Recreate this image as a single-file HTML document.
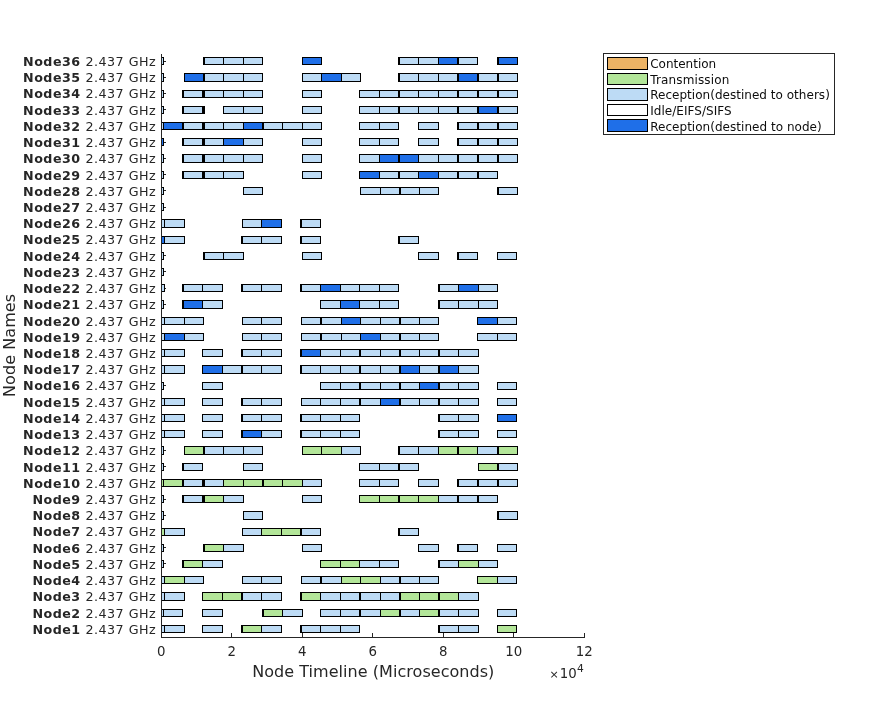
<!DOCTYPE html>
<html lang="en"><head><meta charset="utf-8"><title>Node Timeline</title>
<style>
html,body{margin:0;padding:0;background:#fff;}
body{width:896px;height:717px;overflow:hidden;}
svg{display:block;font-family:"DejaVu Sans","Liberation Sans",sans-serif;fill:#262626;}
.bars rect{shape-rendering:crispEdges;}
.yl text{font-size:12.7px;}
.xl text{font-size:13.33px;}
.lg text{font-size:12px;fill:#0d0d0d;}
</style></head><body>
<svg width="896" height="717" viewBox="0 0 896 717">
<rect width="896" height="717" fill="#fff"/>
<g class="bars">
<rect x="161" y="61" width="5" height="1" fill="#262626"/>
<rect x="161" y="77" width="5" height="1" fill="#262626"/>
<rect x="161" y="93" width="5" height="1" fill="#262626"/>
<rect x="161" y="109" width="5" height="1" fill="#262626"/>
<rect x="161" y="125" width="5" height="1" fill="#262626"/>
<rect x="161" y="142" width="5" height="1" fill="#262626"/>
<rect x="161" y="158" width="5" height="1" fill="#262626"/>
<rect x="161" y="174" width="5" height="1" fill="#262626"/>
<rect x="161" y="190" width="5" height="1" fill="#262626"/>
<rect x="161" y="207" width="5" height="1" fill="#262626"/>
<rect x="161" y="223" width="5" height="1" fill="#262626"/>
<rect x="161" y="239" width="5" height="1" fill="#262626"/>
<rect x="161" y="255" width="5" height="1" fill="#262626"/>
<rect x="161" y="271" width="5" height="1" fill="#262626"/>
<rect x="161" y="288" width="5" height="1" fill="#262626"/>
<rect x="161" y="304" width="5" height="1" fill="#262626"/>
<rect x="161" y="320" width="5" height="1" fill="#262626"/>
<rect x="161" y="336" width="5" height="1" fill="#262626"/>
<rect x="161" y="353" width="5" height="1" fill="#262626"/>
<rect x="161" y="369" width="5" height="1" fill="#262626"/>
<rect x="161" y="385" width="5" height="1" fill="#262626"/>
<rect x="161" y="401" width="5" height="1" fill="#262626"/>
<rect x="161" y="417" width="5" height="1" fill="#262626"/>
<rect x="161" y="434" width="5" height="1" fill="#262626"/>
<rect x="161" y="450" width="5" height="1" fill="#262626"/>
<rect x="161" y="466" width="5" height="1" fill="#262626"/>
<rect x="161" y="482" width="5" height="1" fill="#262626"/>
<rect x="161" y="499" width="5" height="1" fill="#262626"/>
<rect x="161" y="515" width="5" height="1" fill="#262626"/>
<rect x="161" y="531" width="5" height="1" fill="#262626"/>
<rect x="161" y="547" width="5" height="1" fill="#262626"/>
<rect x="161" y="563" width="5" height="1" fill="#262626"/>
<rect x="161" y="580" width="5" height="1" fill="#262626"/>
<rect x="161" y="596" width="5" height="1" fill="#262626"/>
<rect x="161" y="612" width="5" height="1" fill="#262626"/>
<rect x="161" y="628" width="5" height="1" fill="#262626"/>
<rect x="161" y="57" width="3" height="8" fill="#000"/>
<rect x="162" y="58" width="1" height="6" fill="#BDDBF5"/>
<rect x="203" y="57" width="60" height="8" fill="#000"/>
<rect x="205" y="58" width="18" height="6" fill="#BDDBF5"/>
<rect x="224" y="58" width="19" height="6" fill="#BDDBF5"/>
<rect x="244" y="58" width="18" height="6" fill="#BDDBF5"/>
<rect x="302" y="57" width="20" height="8" fill="#000"/>
<rect x="303" y="58" width="18" height="6" fill="#1F6FE8"/>
<rect x="398" y="57" width="80" height="8" fill="#000"/>
<rect x="400" y="58" width="18" height="6" fill="#BDDBF5"/>
<rect x="419" y="58" width="19" height="6" fill="#BDDBF5"/>
<rect x="439" y="58" width="18" height="6" fill="#1F6FE8"/>
<rect x="459" y="58" width="18" height="6" fill="#BDDBF5"/>
<rect x="497" y="57" width="21" height="8" fill="#000"/>
<rect x="499" y="58" width="18" height="6" fill="#1F6FE8"/>
<rect x="161" y="73" width="3" height="9" fill="#000"/>
<rect x="162" y="74" width="1" height="7" fill="#BDDBF5"/>
<rect x="184" y="73" width="79" height="9" fill="#000"/>
<rect x="185" y="74" width="18" height="7" fill="#1F6FE8"/>
<rect x="205" y="74" width="18" height="7" fill="#BDDBF5"/>
<rect x="224" y="74" width="19" height="7" fill="#BDDBF5"/>
<rect x="244" y="74" width="18" height="7" fill="#BDDBF5"/>
<rect x="302" y="73" width="59" height="9" fill="#000"/>
<rect x="303" y="74" width="18" height="7" fill="#BDDBF5"/>
<rect x="322" y="74" width="19" height="7" fill="#1F6FE8"/>
<rect x="342" y="74" width="18" height="7" fill="#BDDBF5"/>
<rect x="398" y="73" width="120" height="9" fill="#000"/>
<rect x="400" y="74" width="18" height="7" fill="#BDDBF5"/>
<rect x="419" y="74" width="19" height="7" fill="#BDDBF5"/>
<rect x="439" y="74" width="18" height="7" fill="#BDDBF5"/>
<rect x="459" y="74" width="18" height="7" fill="#1F6FE8"/>
<rect x="479" y="74" width="18" height="7" fill="#BDDBF5"/>
<rect x="499" y="74" width="18" height="7" fill="#BDDBF5"/>
<rect x="161" y="90" width="3" height="8" fill="#000"/>
<rect x="162" y="91" width="1" height="6" fill="#BDDBF5"/>
<rect x="182" y="90" width="81" height="8" fill="#000"/>
<rect x="184" y="91" width="18" height="6" fill="#BDDBF5"/>
<rect x="205" y="91" width="18" height="6" fill="#BDDBF5"/>
<rect x="224" y="91" width="19" height="6" fill="#BDDBF5"/>
<rect x="244" y="91" width="18" height="6" fill="#BDDBF5"/>
<rect x="302" y="90" width="20" height="8" fill="#000"/>
<rect x="303" y="91" width="18" height="6" fill="#BDDBF5"/>
<rect x="359" y="90" width="159" height="8" fill="#000"/>
<rect x="360" y="91" width="19" height="6" fill="#BDDBF5"/>
<rect x="380" y="91" width="18" height="6" fill="#BDDBF5"/>
<rect x="400" y="91" width="18" height="6" fill="#BDDBF5"/>
<rect x="419" y="91" width="19" height="6" fill="#BDDBF5"/>
<rect x="439" y="91" width="18" height="6" fill="#BDDBF5"/>
<rect x="459" y="91" width="18" height="6" fill="#BDDBF5"/>
<rect x="479" y="91" width="18" height="6" fill="#BDDBF5"/>
<rect x="499" y="91" width="18" height="6" fill="#BDDBF5"/>
<rect x="161" y="106" width="3" height="8" fill="#000"/>
<rect x="162" y="107" width="1" height="6" fill="#BDDBF5"/>
<rect x="182" y="106" width="23" height="8" fill="#000"/>
<rect x="184" y="107" width="18" height="6" fill="#BDDBF5"/>
<rect x="223" y="106" width="40" height="8" fill="#000"/>
<rect x="224" y="107" width="19" height="6" fill="#BDDBF5"/>
<rect x="244" y="107" width="18" height="6" fill="#BDDBF5"/>
<rect x="302" y="106" width="20" height="8" fill="#000"/>
<rect x="303" y="107" width="18" height="6" fill="#BDDBF5"/>
<rect x="359" y="106" width="159" height="8" fill="#000"/>
<rect x="360" y="107" width="19" height="6" fill="#BDDBF5"/>
<rect x="380" y="107" width="18" height="6" fill="#BDDBF5"/>
<rect x="400" y="107" width="18" height="6" fill="#BDDBF5"/>
<rect x="419" y="107" width="19" height="6" fill="#BDDBF5"/>
<rect x="439" y="107" width="18" height="6" fill="#BDDBF5"/>
<rect x="459" y="107" width="18" height="6" fill="#BDDBF5"/>
<rect x="479" y="107" width="18" height="6" fill="#1F6FE8"/>
<rect x="499" y="107" width="18" height="6" fill="#BDDBF5"/>
<rect x="161" y="122" width="161" height="8" fill="#000"/>
<rect x="162" y="123" width="1" height="6" fill="#BDDBF5"/>
<rect x="164" y="123" width="18" height="6" fill="#1F6FE8"/>
<rect x="184" y="123" width="18" height="6" fill="#BDDBF5"/>
<rect x="205" y="123" width="18" height="6" fill="#BDDBF5"/>
<rect x="224" y="123" width="19" height="6" fill="#BDDBF5"/>
<rect x="244" y="123" width="18" height="6" fill="#1F6FE8"/>
<rect x="264" y="123" width="18" height="6" fill="#BDDBF5"/>
<rect x="283" y="123" width="19" height="6" fill="#BDDBF5"/>
<rect x="303" y="123" width="18" height="6" fill="#BDDBF5"/>
<rect x="359" y="122" width="40" height="8" fill="#000"/>
<rect x="360" y="123" width="19" height="6" fill="#BDDBF5"/>
<rect x="380" y="123" width="18" height="6" fill="#BDDBF5"/>
<rect x="418" y="122" width="21" height="8" fill="#000"/>
<rect x="419" y="123" width="19" height="6" fill="#BDDBF5"/>
<rect x="457" y="122" width="61" height="8" fill="#000"/>
<rect x="459" y="123" width="18" height="6" fill="#BDDBF5"/>
<rect x="479" y="123" width="18" height="6" fill="#BDDBF5"/>
<rect x="499" y="123" width="18" height="6" fill="#BDDBF5"/>
<rect x="161" y="138" width="3" height="8" fill="#000"/>
<rect x="162" y="139" width="1" height="6" fill="#1F6FE8"/>
<rect x="182" y="138" width="81" height="8" fill="#000"/>
<rect x="184" y="139" width="18" height="6" fill="#BDDBF5"/>
<rect x="205" y="139" width="18" height="6" fill="#BDDBF5"/>
<rect x="224" y="139" width="19" height="6" fill="#1F6FE8"/>
<rect x="244" y="139" width="18" height="6" fill="#BDDBF5"/>
<rect x="302" y="138" width="20" height="8" fill="#000"/>
<rect x="303" y="139" width="18" height="6" fill="#BDDBF5"/>
<rect x="359" y="138" width="40" height="8" fill="#000"/>
<rect x="360" y="139" width="19" height="6" fill="#BDDBF5"/>
<rect x="380" y="139" width="18" height="6" fill="#BDDBF5"/>
<rect x="418" y="138" width="21" height="8" fill="#000"/>
<rect x="419" y="139" width="19" height="6" fill="#BDDBF5"/>
<rect x="457" y="138" width="61" height="8" fill="#000"/>
<rect x="459" y="139" width="18" height="6" fill="#BDDBF5"/>
<rect x="479" y="139" width="18" height="6" fill="#BDDBF5"/>
<rect x="499" y="139" width="18" height="6" fill="#BDDBF5"/>
<rect x="161" y="154" width="3" height="9" fill="#000"/>
<rect x="162" y="155" width="1" height="7" fill="#BDDBF5"/>
<rect x="182" y="154" width="81" height="9" fill="#000"/>
<rect x="184" y="155" width="18" height="7" fill="#BDDBF5"/>
<rect x="205" y="155" width="18" height="7" fill="#BDDBF5"/>
<rect x="224" y="155" width="19" height="7" fill="#BDDBF5"/>
<rect x="244" y="155" width="18" height="7" fill="#BDDBF5"/>
<rect x="302" y="154" width="20" height="9" fill="#000"/>
<rect x="303" y="155" width="18" height="7" fill="#BDDBF5"/>
<rect x="359" y="154" width="159" height="9" fill="#000"/>
<rect x="360" y="155" width="19" height="7" fill="#BDDBF5"/>
<rect x="380" y="155" width="18" height="7" fill="#1F6FE8"/>
<rect x="400" y="155" width="18" height="7" fill="#1F6FE8"/>
<rect x="419" y="155" width="19" height="7" fill="#BDDBF5"/>
<rect x="439" y="155" width="18" height="7" fill="#BDDBF5"/>
<rect x="459" y="155" width="18" height="7" fill="#BDDBF5"/>
<rect x="479" y="155" width="18" height="7" fill="#BDDBF5"/>
<rect x="499" y="155" width="18" height="7" fill="#BDDBF5"/>
<rect x="161" y="171" width="3" height="8" fill="#000"/>
<rect x="162" y="172" width="1" height="6" fill="#BDDBF5"/>
<rect x="182" y="171" width="62" height="8" fill="#000"/>
<rect x="184" y="172" width="18" height="6" fill="#BDDBF5"/>
<rect x="205" y="172" width="18" height="6" fill="#BDDBF5"/>
<rect x="224" y="172" width="19" height="6" fill="#BDDBF5"/>
<rect x="302" y="171" width="20" height="8" fill="#000"/>
<rect x="303" y="172" width="18" height="6" fill="#BDDBF5"/>
<rect x="359" y="171" width="139" height="8" fill="#000"/>
<rect x="360" y="172" width="19" height="6" fill="#1F6FE8"/>
<rect x="380" y="172" width="18" height="6" fill="#BDDBF5"/>
<rect x="400" y="172" width="18" height="6" fill="#BDDBF5"/>
<rect x="419" y="172" width="19" height="6" fill="#1F6FE8"/>
<rect x="439" y="172" width="18" height="6" fill="#BDDBF5"/>
<rect x="459" y="172" width="18" height="6" fill="#BDDBF5"/>
<rect x="479" y="172" width="18" height="6" fill="#BDDBF5"/>
<rect x="161" y="187" width="3" height="8" fill="#000"/>
<rect x="162" y="188" width="1" height="6" fill="#BDDBF5"/>
<rect x="243" y="187" width="20" height="8" fill="#000"/>
<rect x="244" y="188" width="18" height="6" fill="#BDDBF5"/>
<rect x="360" y="187" width="79" height="8" fill="#000"/>
<rect x="361" y="188" width="19" height="6" fill="#BDDBF5"/>
<rect x="381" y="188" width="18" height="6" fill="#BDDBF5"/>
<rect x="401" y="188" width="18" height="6" fill="#BDDBF5"/>
<rect x="420" y="188" width="18" height="6" fill="#BDDBF5"/>
<rect x="497" y="187" width="21" height="8" fill="#000"/>
<rect x="499" y="188" width="18" height="6" fill="#BDDBF5"/>
<rect x="161" y="203" width="3" height="8" fill="#000"/>
<rect x="162" y="204" width="1" height="6" fill="#BDDBF5"/>
<rect x="161" y="219" width="24" height="9" fill="#000"/>
<rect x="162" y="220" width="2" height="7" fill="#BDDBF5"/>
<rect x="165" y="220" width="19" height="7" fill="#BDDBF5"/>
<rect x="242" y="219" width="40" height="9" fill="#000"/>
<rect x="243" y="220" width="18" height="7" fill="#BDDBF5"/>
<rect x="262" y="220" width="19" height="7" fill="#1F6FE8"/>
<rect x="300" y="219" width="21" height="9" fill="#000"/>
<rect x="302" y="220" width="18" height="7" fill="#BDDBF5"/>
<rect x="161" y="236" width="24" height="8" fill="#000"/>
<rect x="162" y="237" width="2" height="6" fill="#1F6FE8"/>
<rect x="165" y="237" width="19" height="6" fill="#BDDBF5"/>
<rect x="241" y="236" width="41" height="8" fill="#000"/>
<rect x="243" y="237" width="18" height="6" fill="#BDDBF5"/>
<rect x="262" y="237" width="19" height="6" fill="#BDDBF5"/>
<rect x="300" y="236" width="21" height="8" fill="#000"/>
<rect x="302" y="237" width="18" height="6" fill="#BDDBF5"/>
<rect x="398" y="236" width="21" height="8" fill="#000"/>
<rect x="400" y="237" width="18" height="6" fill="#BDDBF5"/>
<rect x="161" y="252" width="3" height="8" fill="#000"/>
<rect x="162" y="253" width="1" height="6" fill="#BDDBF5"/>
<rect x="203" y="252" width="41" height="8" fill="#000"/>
<rect x="205" y="253" width="18" height="6" fill="#BDDBF5"/>
<rect x="224" y="253" width="19" height="6" fill="#BDDBF5"/>
<rect x="302" y="252" width="20" height="8" fill="#000"/>
<rect x="303" y="253" width="18" height="6" fill="#BDDBF5"/>
<rect x="418" y="252" width="21" height="8" fill="#000"/>
<rect x="419" y="253" width="19" height="6" fill="#BDDBF5"/>
<rect x="457" y="252" width="21" height="8" fill="#000"/>
<rect x="459" y="253" width="18" height="6" fill="#BDDBF5"/>
<rect x="497" y="252" width="20" height="8" fill="#000"/>
<rect x="498" y="253" width="18" height="6" fill="#BDDBF5"/>
<rect x="161" y="268" width="3" height="8" fill="#000"/>
<rect x="162" y="269" width="1" height="6" fill="#BDDBF5"/>
<rect x="161" y="284" width="4" height="8" fill="#000"/>
<rect x="162" y="285" width="2" height="6" fill="#BDDBF5"/>
<rect x="182" y="284" width="41" height="8" fill="#000"/>
<rect x="184" y="285" width="18" height="6" fill="#BDDBF5"/>
<rect x="203" y="285" width="19" height="6" fill="#BDDBF5"/>
<rect x="241" y="284" width="41" height="8" fill="#000"/>
<rect x="243" y="285" width="18" height="6" fill="#BDDBF5"/>
<rect x="262" y="285" width="19" height="6" fill="#BDDBF5"/>
<rect x="300" y="284" width="99" height="8" fill="#000"/>
<rect x="302" y="285" width="18" height="6" fill="#BDDBF5"/>
<rect x="321" y="285" width="19" height="6" fill="#1F6FE8"/>
<rect x="341" y="285" width="18" height="6" fill="#BDDBF5"/>
<rect x="360" y="285" width="19" height="6" fill="#BDDBF5"/>
<rect x="380" y="285" width="18" height="6" fill="#BDDBF5"/>
<rect x="438" y="284" width="60" height="8" fill="#000"/>
<rect x="440" y="285" width="18" height="6" fill="#BDDBF5"/>
<rect x="459" y="285" width="19" height="6" fill="#1F6FE8"/>
<rect x="479" y="285" width="18" height="6" fill="#BDDBF5"/>
<rect x="161" y="300" width="3" height="9" fill="#000"/>
<rect x="162" y="301" width="1" height="7" fill="#BDDBF5"/>
<rect x="182" y="300" width="41" height="9" fill="#000"/>
<rect x="184" y="301" width="18" height="7" fill="#1F6FE8"/>
<rect x="203" y="301" width="19" height="7" fill="#BDDBF5"/>
<rect x="320" y="300" width="79" height="9" fill="#000"/>
<rect x="321" y="301" width="19" height="7" fill="#BDDBF5"/>
<rect x="341" y="301" width="18" height="7" fill="#1F6FE8"/>
<rect x="360" y="301" width="19" height="7" fill="#BDDBF5"/>
<rect x="380" y="301" width="18" height="7" fill="#BDDBF5"/>
<rect x="438" y="300" width="60" height="9" fill="#000"/>
<rect x="440" y="301" width="18" height="7" fill="#BDDBF5"/>
<rect x="459" y="301" width="19" height="7" fill="#BDDBF5"/>
<rect x="479" y="301" width="18" height="7" fill="#BDDBF5"/>
<rect x="161" y="317" width="43" height="8" fill="#000"/>
<rect x="162" y="318" width="2" height="6" fill="#BDDBF5"/>
<rect x="165" y="318" width="19" height="6" fill="#BDDBF5"/>
<rect x="185" y="318" width="18" height="6" fill="#BDDBF5"/>
<rect x="242" y="317" width="40" height="8" fill="#000"/>
<rect x="243" y="318" width="18" height="6" fill="#BDDBF5"/>
<rect x="262" y="318" width="19" height="6" fill="#BDDBF5"/>
<rect x="301" y="317" width="138" height="8" fill="#000"/>
<rect x="302" y="318" width="18" height="6" fill="#BDDBF5"/>
<rect x="322" y="318" width="19" height="6" fill="#BDDBF5"/>
<rect x="342" y="318" width="18" height="6" fill="#1F6FE8"/>
<rect x="361" y="318" width="19" height="6" fill="#BDDBF5"/>
<rect x="381" y="318" width="18" height="6" fill="#BDDBF5"/>
<rect x="401" y="318" width="18" height="6" fill="#BDDBF5"/>
<rect x="420" y="318" width="18" height="6" fill="#BDDBF5"/>
<rect x="477" y="317" width="40" height="8" fill="#000"/>
<rect x="478" y="318" width="19" height="6" fill="#1F6FE8"/>
<rect x="498" y="318" width="18" height="6" fill="#BDDBF5"/>
<rect x="161" y="333" width="43" height="8" fill="#000"/>
<rect x="162" y="334" width="2" height="6" fill="#BDDBF5"/>
<rect x="165" y="334" width="19" height="6" fill="#1F6FE8"/>
<rect x="185" y="334" width="18" height="6" fill="#BDDBF5"/>
<rect x="242" y="333" width="40" height="8" fill="#000"/>
<rect x="243" y="334" width="18" height="6" fill="#BDDBF5"/>
<rect x="262" y="334" width="19" height="6" fill="#BDDBF5"/>
<rect x="301" y="333" width="138" height="8" fill="#000"/>
<rect x="302" y="334" width="18" height="6" fill="#BDDBF5"/>
<rect x="322" y="334" width="19" height="6" fill="#BDDBF5"/>
<rect x="342" y="334" width="18" height="6" fill="#BDDBF5"/>
<rect x="361" y="334" width="19" height="6" fill="#1F6FE8"/>
<rect x="381" y="334" width="18" height="6" fill="#BDDBF5"/>
<rect x="401" y="334" width="18" height="6" fill="#BDDBF5"/>
<rect x="420" y="334" width="18" height="6" fill="#BDDBF5"/>
<rect x="477" y="333" width="40" height="8" fill="#000"/>
<rect x="478" y="334" width="19" height="6" fill="#BDDBF5"/>
<rect x="498" y="334" width="18" height="6" fill="#BDDBF5"/>
<rect x="161" y="349" width="24" height="8" fill="#000"/>
<rect x="162" y="350" width="2" height="6" fill="#BDDBF5"/>
<rect x="165" y="350" width="19" height="6" fill="#BDDBF5"/>
<rect x="202" y="349" width="21" height="8" fill="#000"/>
<rect x="203" y="350" width="19" height="6" fill="#BDDBF5"/>
<rect x="241" y="349" width="41" height="8" fill="#000"/>
<rect x="243" y="350" width="18" height="6" fill="#BDDBF5"/>
<rect x="262" y="350" width="19" height="6" fill="#BDDBF5"/>
<rect x="300" y="349" width="179" height="8" fill="#000"/>
<rect x="302" y="350" width="18" height="6" fill="#1F6FE8"/>
<rect x="321" y="350" width="19" height="6" fill="#BDDBF5"/>
<rect x="341" y="350" width="18" height="6" fill="#BDDBF5"/>
<rect x="361" y="350" width="19" height="6" fill="#BDDBF5"/>
<rect x="381" y="350" width="18" height="6" fill="#BDDBF5"/>
<rect x="401" y="350" width="18" height="6" fill="#BDDBF5"/>
<rect x="420" y="350" width="18" height="6" fill="#BDDBF5"/>
<rect x="440" y="350" width="18" height="6" fill="#BDDBF5"/>
<rect x="459" y="350" width="19" height="6" fill="#BDDBF5"/>
<rect x="161" y="365" width="24" height="9" fill="#000"/>
<rect x="162" y="366" width="2" height="7" fill="#BDDBF5"/>
<rect x="165" y="366" width="19" height="7" fill="#BDDBF5"/>
<rect x="202" y="365" width="80" height="9" fill="#000"/>
<rect x="203" y="366" width="19" height="7" fill="#1F6FE8"/>
<rect x="223" y="366" width="18" height="7" fill="#BDDBF5"/>
<rect x="243" y="366" width="18" height="7" fill="#BDDBF5"/>
<rect x="262" y="366" width="19" height="7" fill="#BDDBF5"/>
<rect x="300" y="365" width="179" height="9" fill="#000"/>
<rect x="302" y="366" width="18" height="7" fill="#BDDBF5"/>
<rect x="321" y="366" width="19" height="7" fill="#BDDBF5"/>
<rect x="341" y="366" width="18" height="7" fill="#BDDBF5"/>
<rect x="361" y="366" width="19" height="7" fill="#BDDBF5"/>
<rect x="381" y="366" width="18" height="7" fill="#BDDBF5"/>
<rect x="401" y="366" width="18" height="7" fill="#1F6FE8"/>
<rect x="420" y="366" width="18" height="7" fill="#BDDBF5"/>
<rect x="440" y="366" width="18" height="7" fill="#1F6FE8"/>
<rect x="459" y="366" width="19" height="7" fill="#BDDBF5"/>
<rect x="161" y="382" width="3" height="8" fill="#000"/>
<rect x="162" y="383" width="1" height="6" fill="#BDDBF5"/>
<rect x="202" y="382" width="21" height="8" fill="#000"/>
<rect x="203" y="383" width="19" height="6" fill="#BDDBF5"/>
<rect x="320" y="382" width="159" height="8" fill="#000"/>
<rect x="321" y="383" width="19" height="6" fill="#BDDBF5"/>
<rect x="341" y="383" width="18" height="6" fill="#BDDBF5"/>
<rect x="361" y="383" width="19" height="6" fill="#BDDBF5"/>
<rect x="381" y="383" width="18" height="6" fill="#BDDBF5"/>
<rect x="401" y="383" width="18" height="6" fill="#BDDBF5"/>
<rect x="420" y="383" width="18" height="6" fill="#1F6FE8"/>
<rect x="440" y="383" width="18" height="6" fill="#BDDBF5"/>
<rect x="459" y="383" width="19" height="6" fill="#BDDBF5"/>
<rect x="497" y="382" width="20" height="8" fill="#000"/>
<rect x="498" y="383" width="18" height="6" fill="#BDDBF5"/>
<rect x="161" y="398" width="24" height="8" fill="#000"/>
<rect x="162" y="399" width="2" height="6" fill="#BDDBF5"/>
<rect x="165" y="399" width="19" height="6" fill="#BDDBF5"/>
<rect x="202" y="398" width="21" height="8" fill="#000"/>
<rect x="203" y="399" width="19" height="6" fill="#BDDBF5"/>
<rect x="241" y="398" width="41" height="8" fill="#000"/>
<rect x="243" y="399" width="18" height="6" fill="#BDDBF5"/>
<rect x="262" y="399" width="19" height="6" fill="#BDDBF5"/>
<rect x="301" y="398" width="178" height="8" fill="#000"/>
<rect x="302" y="399" width="18" height="6" fill="#BDDBF5"/>
<rect x="321" y="399" width="19" height="6" fill="#BDDBF5"/>
<rect x="341" y="399" width="18" height="6" fill="#BDDBF5"/>
<rect x="361" y="399" width="19" height="6" fill="#BDDBF5"/>
<rect x="381" y="399" width="18" height="6" fill="#1F6FE8"/>
<rect x="401" y="399" width="18" height="6" fill="#BDDBF5"/>
<rect x="420" y="399" width="18" height="6" fill="#BDDBF5"/>
<rect x="440" y="399" width="18" height="6" fill="#BDDBF5"/>
<rect x="459" y="399" width="19" height="6" fill="#BDDBF5"/>
<rect x="497" y="398" width="20" height="8" fill="#000"/>
<rect x="498" y="399" width="18" height="6" fill="#BDDBF5"/>
<rect x="161" y="414" width="24" height="8" fill="#000"/>
<rect x="162" y="415" width="2" height="6" fill="#BDDBF5"/>
<rect x="165" y="415" width="19" height="6" fill="#BDDBF5"/>
<rect x="202" y="414" width="21" height="8" fill="#000"/>
<rect x="203" y="415" width="19" height="6" fill="#BDDBF5"/>
<rect x="241" y="414" width="41" height="8" fill="#000"/>
<rect x="243" y="415" width="18" height="6" fill="#BDDBF5"/>
<rect x="262" y="415" width="19" height="6" fill="#BDDBF5"/>
<rect x="300" y="414" width="60" height="8" fill="#000"/>
<rect x="302" y="415" width="18" height="6" fill="#BDDBF5"/>
<rect x="321" y="415" width="19" height="6" fill="#BDDBF5"/>
<rect x="341" y="415" width="18" height="6" fill="#BDDBF5"/>
<rect x="438" y="414" width="41" height="8" fill="#000"/>
<rect x="440" y="415" width="18" height="6" fill="#BDDBF5"/>
<rect x="459" y="415" width="19" height="6" fill="#BDDBF5"/>
<rect x="497" y="414" width="20" height="8" fill="#000"/>
<rect x="498" y="415" width="18" height="6" fill="#1F6FE8"/>
<rect x="161" y="430" width="24" height="8" fill="#000"/>
<rect x="162" y="431" width="2" height="6" fill="#BDDBF5"/>
<rect x="165" y="431" width="19" height="6" fill="#BDDBF5"/>
<rect x="202" y="430" width="21" height="8" fill="#000"/>
<rect x="203" y="431" width="19" height="6" fill="#BDDBF5"/>
<rect x="241" y="430" width="41" height="8" fill="#000"/>
<rect x="243" y="431" width="18" height="6" fill="#1F6FE8"/>
<rect x="262" y="431" width="19" height="6" fill="#BDDBF5"/>
<rect x="300" y="430" width="60" height="8" fill="#000"/>
<rect x="302" y="431" width="18" height="6" fill="#BDDBF5"/>
<rect x="321" y="431" width="19" height="6" fill="#BDDBF5"/>
<rect x="341" y="431" width="18" height="6" fill="#BDDBF5"/>
<rect x="438" y="430" width="41" height="8" fill="#000"/>
<rect x="440" y="431" width="18" height="6" fill="#BDDBF5"/>
<rect x="459" y="431" width="19" height="6" fill="#BDDBF5"/>
<rect x="497" y="430" width="20" height="8" fill="#000"/>
<rect x="498" y="431" width="18" height="6" fill="#BDDBF5"/>
<rect x="161" y="446" width="3" height="9" fill="#000"/>
<rect x="162" y="447" width="1" height="7" fill="#BDDBF5"/>
<rect x="184" y="446" width="79" height="9" fill="#000"/>
<rect x="185" y="447" width="18" height="7" fill="#B3E699"/>
<rect x="205" y="447" width="18" height="7" fill="#BDDBF5"/>
<rect x="224" y="447" width="19" height="7" fill="#BDDBF5"/>
<rect x="244" y="447" width="18" height="7" fill="#BDDBF5"/>
<rect x="302" y="446" width="59" height="9" fill="#000"/>
<rect x="303" y="447" width="18" height="7" fill="#B3E699"/>
<rect x="322" y="447" width="19" height="7" fill="#B3E699"/>
<rect x="342" y="447" width="18" height="7" fill="#BDDBF5"/>
<rect x="398" y="446" width="120" height="9" fill="#000"/>
<rect x="400" y="447" width="18" height="7" fill="#BDDBF5"/>
<rect x="419" y="447" width="19" height="7" fill="#BDDBF5"/>
<rect x="439" y="447" width="18" height="7" fill="#B3E699"/>
<rect x="459" y="447" width="18" height="7" fill="#B3E699"/>
<rect x="478" y="447" width="19" height="7" fill="#BDDBF5"/>
<rect x="499" y="447" width="18" height="7" fill="#B3E699"/>
<rect x="161" y="463" width="3" height="8" fill="#000"/>
<rect x="162" y="464" width="1" height="6" fill="#BDDBF5"/>
<rect x="182" y="463" width="21" height="8" fill="#000"/>
<rect x="184" y="464" width="18" height="6" fill="#BDDBF5"/>
<rect x="243" y="463" width="20" height="8" fill="#000"/>
<rect x="244" y="464" width="18" height="6" fill="#BDDBF5"/>
<rect x="359" y="463" width="60" height="8" fill="#000"/>
<rect x="360" y="464" width="19" height="6" fill="#BDDBF5"/>
<rect x="380" y="464" width="18" height="6" fill="#BDDBF5"/>
<rect x="400" y="464" width="18" height="6" fill="#BDDBF5"/>
<rect x="478" y="463" width="40" height="8" fill="#000"/>
<rect x="479" y="464" width="18" height="6" fill="#B3E699"/>
<rect x="499" y="464" width="18" height="6" fill="#BDDBF5"/>
<rect x="161" y="479" width="161" height="8" fill="#000"/>
<rect x="162" y="480" width="1" height="6" fill="#B3E699"/>
<rect x="164" y="480" width="18" height="6" fill="#B3E699"/>
<rect x="184" y="480" width="18" height="6" fill="#BDDBF5"/>
<rect x="205" y="480" width="18" height="6" fill="#BDDBF5"/>
<rect x="224" y="480" width="19" height="6" fill="#B3E699"/>
<rect x="244" y="480" width="18" height="6" fill="#B3E699"/>
<rect x="264" y="480" width="18" height="6" fill="#B3E699"/>
<rect x="283" y="480" width="19" height="6" fill="#B3E699"/>
<rect x="303" y="480" width="18" height="6" fill="#BDDBF5"/>
<rect x="359" y="479" width="40" height="8" fill="#000"/>
<rect x="360" y="480" width="19" height="6" fill="#BDDBF5"/>
<rect x="380" y="480" width="18" height="6" fill="#BDDBF5"/>
<rect x="418" y="479" width="21" height="8" fill="#000"/>
<rect x="419" y="480" width="19" height="6" fill="#BDDBF5"/>
<rect x="457" y="479" width="61" height="8" fill="#000"/>
<rect x="459" y="480" width="18" height="6" fill="#BDDBF5"/>
<rect x="479" y="480" width="18" height="6" fill="#BDDBF5"/>
<rect x="499" y="480" width="18" height="6" fill="#BDDBF5"/>
<rect x="161" y="495" width="3" height="8" fill="#000"/>
<rect x="162" y="496" width="1" height="6" fill="#BDDBF5"/>
<rect x="182" y="495" width="62" height="8" fill="#000"/>
<rect x="184" y="496" width="18" height="6" fill="#BDDBF5"/>
<rect x="205" y="496" width="18" height="6" fill="#B3E699"/>
<rect x="224" y="496" width="19" height="6" fill="#BDDBF5"/>
<rect x="302" y="495" width="20" height="8" fill="#000"/>
<rect x="303" y="496" width="18" height="6" fill="#BDDBF5"/>
<rect x="359" y="495" width="139" height="8" fill="#000"/>
<rect x="360" y="496" width="19" height="6" fill="#B3E699"/>
<rect x="380" y="496" width="18" height="6" fill="#B3E699"/>
<rect x="400" y="496" width="18" height="6" fill="#B3E699"/>
<rect x="419" y="496" width="19" height="6" fill="#B3E699"/>
<rect x="439" y="496" width="18" height="6" fill="#BDDBF5"/>
<rect x="459" y="496" width="18" height="6" fill="#BDDBF5"/>
<rect x="479" y="496" width="18" height="6" fill="#BDDBF5"/>
<rect x="161" y="511" width="3" height="9" fill="#000"/>
<rect x="162" y="512" width="1" height="7" fill="#BDDBF5"/>
<rect x="243" y="511" width="20" height="9" fill="#000"/>
<rect x="244" y="512" width="18" height="7" fill="#BDDBF5"/>
<rect x="497" y="511" width="21" height="9" fill="#000"/>
<rect x="499" y="512" width="18" height="7" fill="#BDDBF5"/>
<rect x="161" y="528" width="24" height="8" fill="#000"/>
<rect x="162" y="529" width="2" height="6" fill="#B3E699"/>
<rect x="165" y="529" width="19" height="6" fill="#BDDBF5"/>
<rect x="242" y="528" width="79" height="8" fill="#000"/>
<rect x="243" y="529" width="18" height="6" fill="#BDDBF5"/>
<rect x="262" y="529" width="19" height="6" fill="#B3E699"/>
<rect x="282" y="529" width="18" height="6" fill="#B3E699"/>
<rect x="302" y="529" width="18" height="6" fill="#BDDBF5"/>
<rect x="398" y="528" width="21" height="8" fill="#000"/>
<rect x="400" y="529" width="18" height="6" fill="#BDDBF5"/>
<rect x="161" y="544" width="3" height="8" fill="#000"/>
<rect x="162" y="545" width="1" height="6" fill="#BDDBF5"/>
<rect x="203" y="544" width="41" height="8" fill="#000"/>
<rect x="205" y="545" width="18" height="6" fill="#B3E699"/>
<rect x="224" y="545" width="19" height="6" fill="#BDDBF5"/>
<rect x="302" y="544" width="20" height="8" fill="#000"/>
<rect x="303" y="545" width="18" height="6" fill="#BDDBF5"/>
<rect x="418" y="544" width="21" height="8" fill="#000"/>
<rect x="419" y="545" width="19" height="6" fill="#BDDBF5"/>
<rect x="457" y="544" width="21" height="8" fill="#000"/>
<rect x="459" y="545" width="18" height="6" fill="#BDDBF5"/>
<rect x="497" y="544" width="20" height="8" fill="#000"/>
<rect x="498" y="545" width="18" height="6" fill="#BDDBF5"/>
<rect x="161" y="560" width="3" height="8" fill="#000"/>
<rect x="162" y="561" width="1" height="6" fill="#BDDBF5"/>
<rect x="182" y="560" width="41" height="8" fill="#000"/>
<rect x="184" y="561" width="18" height="6" fill="#B3E699"/>
<rect x="203" y="561" width="19" height="6" fill="#BDDBF5"/>
<rect x="320" y="560" width="79" height="8" fill="#000"/>
<rect x="321" y="561" width="19" height="6" fill="#B3E699"/>
<rect x="341" y="561" width="18" height="6" fill="#B3E699"/>
<rect x="360" y="561" width="19" height="6" fill="#BDDBF5"/>
<rect x="380" y="561" width="18" height="6" fill="#BDDBF5"/>
<rect x="438" y="560" width="60" height="8" fill="#000"/>
<rect x="440" y="561" width="18" height="6" fill="#BDDBF5"/>
<rect x="459" y="561" width="19" height="6" fill="#B3E699"/>
<rect x="479" y="561" width="18" height="6" fill="#BDDBF5"/>
<rect x="161" y="576" width="43" height="8" fill="#000"/>
<rect x="162" y="577" width="2" height="6" fill="#BDDBF5"/>
<rect x="165" y="577" width="19" height="6" fill="#B3E699"/>
<rect x="185" y="577" width="18" height="6" fill="#BDDBF5"/>
<rect x="242" y="576" width="40" height="8" fill="#000"/>
<rect x="243" y="577" width="18" height="6" fill="#BDDBF5"/>
<rect x="262" y="577" width="19" height="6" fill="#BDDBF5"/>
<rect x="301" y="576" width="138" height="8" fill="#000"/>
<rect x="302" y="577" width="18" height="6" fill="#BDDBF5"/>
<rect x="322" y="577" width="19" height="6" fill="#BDDBF5"/>
<rect x="342" y="577" width="18" height="6" fill="#B3E699"/>
<rect x="361" y="577" width="19" height="6" fill="#B3E699"/>
<rect x="381" y="577" width="18" height="6" fill="#BDDBF5"/>
<rect x="401" y="577" width="18" height="6" fill="#BDDBF5"/>
<rect x="420" y="577" width="18" height="6" fill="#BDDBF5"/>
<rect x="477" y="576" width="40" height="8" fill="#000"/>
<rect x="478" y="577" width="19" height="6" fill="#B3E699"/>
<rect x="498" y="577" width="18" height="6" fill="#BDDBF5"/>
<rect x="161" y="592" width="24" height="9" fill="#000"/>
<rect x="162" y="593" width="2" height="7" fill="#BDDBF5"/>
<rect x="165" y="593" width="19" height="7" fill="#BDDBF5"/>
<rect x="202" y="592" width="80" height="9" fill="#000"/>
<rect x="203" y="593" width="19" height="7" fill="#B3E699"/>
<rect x="223" y="593" width="18" height="7" fill="#B3E699"/>
<rect x="243" y="593" width="18" height="7" fill="#BDDBF5"/>
<rect x="262" y="593" width="19" height="7" fill="#BDDBF5"/>
<rect x="300" y="592" width="179" height="9" fill="#000"/>
<rect x="302" y="593" width="18" height="7" fill="#B3E699"/>
<rect x="321" y="593" width="19" height="7" fill="#BDDBF5"/>
<rect x="341" y="593" width="18" height="7" fill="#BDDBF5"/>
<rect x="361" y="593" width="19" height="7" fill="#BDDBF5"/>
<rect x="381" y="593" width="18" height="7" fill="#BDDBF5"/>
<rect x="401" y="593" width="18" height="7" fill="#B3E699"/>
<rect x="420" y="593" width="18" height="7" fill="#B3E699"/>
<rect x="440" y="593" width="18" height="7" fill="#B3E699"/>
<rect x="459" y="593" width="19" height="7" fill="#BDDBF5"/>
<rect x="161" y="609" width="22" height="8" fill="#000"/>
<rect x="162" y="610" width="1" height="6" fill="#BDDBF5"/>
<rect x="164" y="610" width="18" height="6" fill="#BDDBF5"/>
<rect x="202" y="609" width="21" height="8" fill="#000"/>
<rect x="203" y="610" width="19" height="6" fill="#BDDBF5"/>
<rect x="262" y="609" width="41" height="8" fill="#000"/>
<rect x="264" y="610" width="18" height="6" fill="#B3E699"/>
<rect x="283" y="610" width="19" height="6" fill="#BDDBF5"/>
<rect x="320" y="609" width="159" height="8" fill="#000"/>
<rect x="321" y="610" width="19" height="6" fill="#BDDBF5"/>
<rect x="341" y="610" width="18" height="6" fill="#BDDBF5"/>
<rect x="361" y="610" width="19" height="6" fill="#BDDBF5"/>
<rect x="381" y="610" width="18" height="6" fill="#B3E699"/>
<rect x="401" y="610" width="18" height="6" fill="#BDDBF5"/>
<rect x="420" y="610" width="18" height="6" fill="#B3E699"/>
<rect x="440" y="610" width="18" height="6" fill="#BDDBF5"/>
<rect x="459" y="610" width="19" height="6" fill="#BDDBF5"/>
<rect x="497" y="609" width="20" height="8" fill="#000"/>
<rect x="498" y="610" width="18" height="6" fill="#BDDBF5"/>
<rect x="161" y="625" width="24" height="8" fill="#000"/>
<rect x="162" y="626" width="2" height="6" fill="#BDDBF5"/>
<rect x="165" y="626" width="19" height="6" fill="#BDDBF5"/>
<rect x="202" y="625" width="21" height="8" fill="#000"/>
<rect x="203" y="626" width="19" height="6" fill="#BDDBF5"/>
<rect x="241" y="625" width="41" height="8" fill="#000"/>
<rect x="243" y="626" width="18" height="6" fill="#B3E699"/>
<rect x="262" y="626" width="19" height="6" fill="#BDDBF5"/>
<rect x="300" y="625" width="60" height="8" fill="#000"/>
<rect x="302" y="626" width="18" height="6" fill="#BDDBF5"/>
<rect x="321" y="626" width="19" height="6" fill="#BDDBF5"/>
<rect x="341" y="626" width="18" height="6" fill="#BDDBF5"/>
<rect x="438" y="625" width="41" height="8" fill="#000"/>
<rect x="440" y="626" width="18" height="6" fill="#BDDBF5"/>
<rect x="459" y="626" width="19" height="6" fill="#BDDBF5"/>
<rect x="497" y="625" width="20" height="8" fill="#000"/>
<rect x="498" y="626" width="18" height="6" fill="#B3E699"/>
<rect x="161" y="54" width="1" height="584" fill="#262626"/>
<rect x="161" y="637" width="424" height="1" fill="#262626"/>
</g>
<g class="yl">
<text x="80.5" y="66" text-anchor="end" font-weight="bold" letter-spacing="0.45">Node36</text><text x="156.1" y="66" text-anchor="end" letter-spacing="0.47">2.437 GHz</text>
<text x="80.5" y="82" text-anchor="end" font-weight="bold" letter-spacing="0.45">Node35</text><text x="156.1" y="82" text-anchor="end" letter-spacing="0.47">2.437 GHz</text>
<text x="80.5" y="98" text-anchor="end" font-weight="bold" letter-spacing="0.45">Node34</text><text x="156.1" y="98" text-anchor="end" letter-spacing="0.47">2.437 GHz</text>
<text x="80.5" y="115" text-anchor="end" font-weight="bold" letter-spacing="0.45">Node33</text><text x="156.1" y="115" text-anchor="end" letter-spacing="0.47">2.437 GHz</text>
<text x="80.5" y="131" text-anchor="end" font-weight="bold" letter-spacing="0.45">Node32</text><text x="156.1" y="131" text-anchor="end" letter-spacing="0.47">2.437 GHz</text>
<text x="80.5" y="147" text-anchor="end" font-weight="bold" letter-spacing="0.45">Node31</text><text x="156.1" y="147" text-anchor="end" letter-spacing="0.47">2.437 GHz</text>
<text x="80.5" y="163" text-anchor="end" font-weight="bold" letter-spacing="0.45">Node30</text><text x="156.1" y="163" text-anchor="end" letter-spacing="0.47">2.437 GHz</text>
<text x="80.5" y="180" text-anchor="end" font-weight="bold" letter-spacing="0.45">Node29</text><text x="156.1" y="180" text-anchor="end" letter-spacing="0.47">2.437 GHz</text>
<text x="80.5" y="196" text-anchor="end" font-weight="bold" letter-spacing="0.45">Node28</text><text x="156.1" y="196" text-anchor="end" letter-spacing="0.47">2.437 GHz</text>
<text x="80.5" y="212" text-anchor="end" font-weight="bold" letter-spacing="0.45">Node27</text><text x="156.1" y="212" text-anchor="end" letter-spacing="0.47">2.437 GHz</text>
<text x="80.5" y="228" text-anchor="end" font-weight="bold" letter-spacing="0.45">Node26</text><text x="156.1" y="228" text-anchor="end" letter-spacing="0.47">2.437 GHz</text>
<text x="80.5" y="244" text-anchor="end" font-weight="bold" letter-spacing="0.45">Node25</text><text x="156.1" y="244" text-anchor="end" letter-spacing="0.47">2.437 GHz</text>
<text x="80.5" y="261" text-anchor="end" font-weight="bold" letter-spacing="0.45">Node24</text><text x="156.1" y="261" text-anchor="end" letter-spacing="0.47">2.437 GHz</text>
<text x="80.5" y="277" text-anchor="end" font-weight="bold" letter-spacing="0.45">Node23</text><text x="156.1" y="277" text-anchor="end" letter-spacing="0.47">2.437 GHz</text>
<text x="80.5" y="293" text-anchor="end" font-weight="bold" letter-spacing="0.45">Node22</text><text x="156.1" y="293" text-anchor="end" letter-spacing="0.47">2.437 GHz</text>
<text x="80.5" y="309" text-anchor="end" font-weight="bold" letter-spacing="0.45">Node21</text><text x="156.1" y="309" text-anchor="end" letter-spacing="0.47">2.437 GHz</text>
<text x="80.5" y="326" text-anchor="end" font-weight="bold" letter-spacing="0.45">Node20</text><text x="156.1" y="326" text-anchor="end" letter-spacing="0.47">2.437 GHz</text>
<text x="80.5" y="342" text-anchor="end" font-weight="bold" letter-spacing="0.45">Node19</text><text x="156.1" y="342" text-anchor="end" letter-spacing="0.47">2.437 GHz</text>
<text x="80.5" y="358" text-anchor="end" font-weight="bold" letter-spacing="0.45">Node18</text><text x="156.1" y="358" text-anchor="end" letter-spacing="0.47">2.437 GHz</text>
<text x="80.5" y="374" text-anchor="end" font-weight="bold" letter-spacing="0.45">Node17</text><text x="156.1" y="374" text-anchor="end" letter-spacing="0.47">2.437 GHz</text>
<text x="80.5" y="390" text-anchor="end" font-weight="bold" letter-spacing="0.45">Node16</text><text x="156.1" y="390" text-anchor="end" letter-spacing="0.47">2.437 GHz</text>
<text x="80.5" y="407" text-anchor="end" font-weight="bold" letter-spacing="0.45">Node15</text><text x="156.1" y="407" text-anchor="end" letter-spacing="0.47">2.437 GHz</text>
<text x="80.5" y="423" text-anchor="end" font-weight="bold" letter-spacing="0.45">Node14</text><text x="156.1" y="423" text-anchor="end" letter-spacing="0.47">2.437 GHz</text>
<text x="80.5" y="439" text-anchor="end" font-weight="bold" letter-spacing="0.45">Node13</text><text x="156.1" y="439" text-anchor="end" letter-spacing="0.47">2.437 GHz</text>
<text x="80.5" y="455" text-anchor="end" font-weight="bold" letter-spacing="0.45">Node12</text><text x="156.1" y="455" text-anchor="end" letter-spacing="0.47">2.437 GHz</text>
<text x="80.5" y="472" text-anchor="end" font-weight="bold" letter-spacing="0.45">Node11</text><text x="156.1" y="472" text-anchor="end" letter-spacing="0.47">2.437 GHz</text>
<text x="80.5" y="488" text-anchor="end" font-weight="bold" letter-spacing="0.45">Node10</text><text x="156.1" y="488" text-anchor="end" letter-spacing="0.47">2.437 GHz</text>
<text x="80.5" y="504" text-anchor="end" font-weight="bold" letter-spacing="0.45">Node9</text><text x="156.1" y="504" text-anchor="end" letter-spacing="0.47">2.437 GHz</text>
<text x="80.5" y="520" text-anchor="end" font-weight="bold" letter-spacing="0.45">Node8</text><text x="156.1" y="520" text-anchor="end" letter-spacing="0.47">2.437 GHz</text>
<text x="80.5" y="536" text-anchor="end" font-weight="bold" letter-spacing="0.45">Node7</text><text x="156.1" y="536" text-anchor="end" letter-spacing="0.47">2.437 GHz</text>
<text x="80.5" y="553" text-anchor="end" font-weight="bold" letter-spacing="0.45">Node6</text><text x="156.1" y="553" text-anchor="end" letter-spacing="0.47">2.437 GHz</text>
<text x="80.5" y="569" text-anchor="end" font-weight="bold" letter-spacing="0.45">Node5</text><text x="156.1" y="569" text-anchor="end" letter-spacing="0.47">2.437 GHz</text>
<text x="80.5" y="585" text-anchor="end" font-weight="bold" letter-spacing="0.45">Node4</text><text x="156.1" y="585" text-anchor="end" letter-spacing="0.47">2.437 GHz</text>
<text x="80.5" y="601" text-anchor="end" font-weight="bold" letter-spacing="0.45">Node3</text><text x="156.1" y="601" text-anchor="end" letter-spacing="0.47">2.437 GHz</text>
<text x="80.5" y="618" text-anchor="end" font-weight="bold" letter-spacing="0.45">Node2</text><text x="156.1" y="618" text-anchor="end" letter-spacing="0.47">2.437 GHz</text>
<text x="80.5" y="634" text-anchor="end" font-weight="bold" letter-spacing="0.45">Node1</text><text x="156.1" y="634" text-anchor="end" letter-spacing="0.47">2.437 GHz</text>
</g>
<g class="xl">
<rect x="161" y="633" width="1" height="5" fill="#262626" shape-rendering="crispEdges"/>
<text x="161.3" y="656" text-anchor="middle">0</text>
<rect x="231" y="633" width="1" height="5" fill="#262626" shape-rendering="crispEdges"/>
<text x="231.8" y="656" text-anchor="middle">2</text>
<rect x="302" y="633" width="1" height="5" fill="#262626" shape-rendering="crispEdges"/>
<text x="302.3" y="656" text-anchor="middle">4</text>
<rect x="372" y="633" width="1" height="5" fill="#262626" shape-rendering="crispEdges"/>
<text x="372.8" y="656" text-anchor="middle">6</text>
<rect x="443" y="633" width="1" height="5" fill="#262626" shape-rendering="crispEdges"/>
<text x="443.3" y="656" text-anchor="middle">8</text>
<rect x="513" y="633" width="1" height="5" fill="#262626" shape-rendering="crispEdges"/>
<text x="513.8" y="656" text-anchor="middle">10</text>
<rect x="584" y="633" width="1" height="5" fill="#262626" shape-rendering="crispEdges"/>
<text x="584.3" y="656" text-anchor="middle">12</text>
<text x="549.4" y="678.4" style="font-size:11px">×</text><text x="559.8" y="678">10</text><text x="577" y="672" style="font-size:10.67px">4</text>
</g>
<text x="252.15" y="677" textLength="242.2" style="font-size:16px">Node Timeline (Microseconds)</text>
<text transform="translate(15.3,397) rotate(-90)" textLength="103.1" style="font-size:16px">Node Names</text>
<g class="lg">
<rect x="603.5" y="53.5" width="231" height="81" fill="#fff" stroke="#262626" stroke-width="1"/>
<rect x="607.5" y="57.5" width="40" height="12" fill="#ECB365" stroke="#000" stroke-width="1"/>
<text x="650.2" y="68" letter-spacing="0">Contention</text>
<rect x="607.5" y="73.5" width="40" height="11" fill="#B3E699" stroke="#000" stroke-width="1"/>
<text x="650.2" y="84" letter-spacing="0.15">Transmission</text>
<rect x="607.5" y="88.5" width="40" height="12" fill="#BDDBF5" stroke="#000" stroke-width="1"/>
<text x="650.2" y="99" letter-spacing="0.025">Reception(destined to others)</text>
<rect x="607.5" y="104.5" width="40" height="11" fill="#FFFFFF" stroke="#000" stroke-width="1"/>
<text x="650.2" y="115" letter-spacing="0.05">Idle/EIFS/SIFS</text>
<rect x="607.5" y="119.5" width="40" height="12" fill="#1F6FE8" stroke="#000" stroke-width="1"/>
<text x="650.2" y="131" letter-spacing="0.033">Reception(destined to node)</text>
</g>
</svg>
</body></html>
